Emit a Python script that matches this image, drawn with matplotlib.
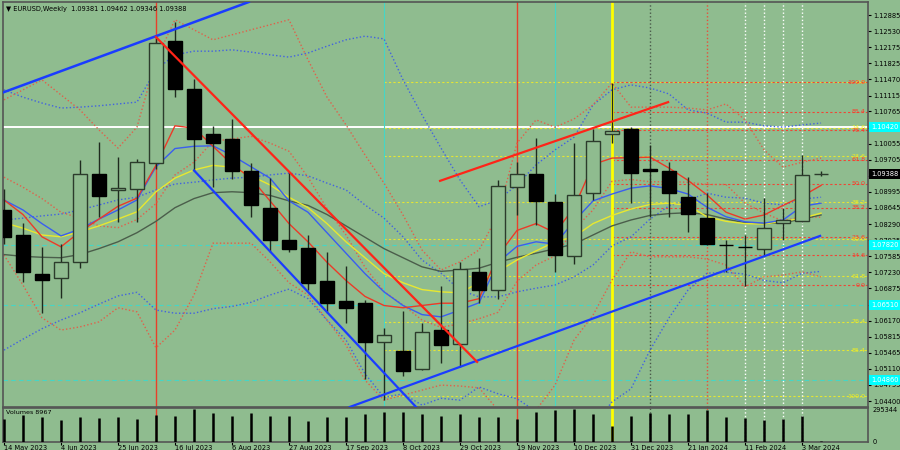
import matplotlib
matplotlib.use("Agg")
import numpy as np
import matplotlib.pyplot as plt
from matplotlib.transforms import blended_transform_factory

BG = "#8fbc8f"

# weekly EURUSD candles, 14 May 2023 .. 10 Mar 2024
opens = [1.0860, 1.0805, 1.0719, 1.0711, 1.0746, 1.0939, 1.0904, 1.0906, 1.0963, 1.1231, 1.1126,
         1.1027, 1.1016, 1.0946, 1.0864, 1.0794, 1.0776, 1.0704, 1.0660, 1.0656, 1.0570, 1.0550,
         1.0511, 1.0596, 1.0566, 1.0724, 1.0684, 1.0911, 1.0939, 1.0878, 1.0759, 1.0897, 1.1027,
         1.1038, 1.0950, 1.0946, 1.0888, 1.0842, 1.0784, 1.0779, 1.0774, 1.0831, 1.0836, 1.09381]
highs = [1.0905, 1.0831, 1.0779, 1.0785, 1.0970, 1.1009, 1.0976, 1.0972, 1.1245, 1.1273, 1.1148,
         1.1045, 1.1060, 1.0963, 1.0930, 1.0944, 1.0805, 1.0768, 1.0737, 1.0662, 1.0601, 1.0638,
         1.0612, 1.0693, 1.0746, 1.0754, 1.0925, 1.0965, 1.1018, 1.0895, 1.1007, 1.1038, 1.1139,
         1.1042, 1.1003, 1.0966, 1.0932, 1.0897, 1.0794, 1.0805, 1.0886, 1.0864, 1.0981, 1.09462]
lows = [1.0785, 1.0702, 1.0634, 1.0667, 1.0732, 1.0845, 1.0834, 1.0834, 1.0950, 1.1109, 1.0945,
        1.0910, 1.0928, 1.0845, 1.0768, 1.0768, 1.0684, 1.0634, 1.0612, 1.0489, 1.0443, 1.0494,
        1.0508, 1.0524, 1.0515, 1.0656, 1.0664, 1.0850, 1.0827, 1.0724, 1.0741, 1.0882, 1.1007,
        1.0875, 1.0845, 1.0845, 1.0812, 1.0782, 1.0724, 1.0693, 1.0759, 1.0794, 1.0834, 1.09346]
closes = [1.0801, 1.0724, 1.0706, 1.0746, 1.0939, 1.0891, 1.0909, 1.0965, 1.1227, 1.1126, 1.1016,
          1.1007, 1.0946, 1.0871, 1.0794, 1.0774, 1.0700, 1.0656, 1.0645, 1.0570, 1.0585, 1.0506,
          1.0592, 1.0563, 1.0730, 1.0684, 1.0913, 1.0939, 1.0880, 1.0761, 1.0893, 1.1012, 1.1034,
          1.0941, 1.0946, 1.0897, 1.0851, 1.0785, 1.0783, 1.0778, 1.0820, 1.0838, 1.0937, 1.09388]
volumes = [206000, 242000, 224000, 197000, 224000, 215000, 224000, 206000, 242000, 233000, 295344,
           260000, 233000, 260000, 233000, 233000, 188000, 224000, 224000, 251000, 269000, 269000,
           251000, 233000, 251000, 224000, 224000, 206000, 269000, 286000, 295000, 251000, 143000,
           233000, 260000, 251000, 251000, 286000, 224000, 215000, 197000, 206000, 233000, 8967]

date_labels = ["14 May 2023", "4 Jun 2023", "25 Jun 2023", "16 Jul 2023", "6 Aug 2023",
               "27 Aug 2023", "17 Sep 2023", "8 Oct 2023", "29 Oct 2023", "19 Nov 2023",
               "10 Dec 2023", "31 Dec 2023", "21 Jan 2024", "11 Feb 2024", "3 Mar 2024"]

# moving averages
red_ma = [1.0882, 1.0850, 1.0801, 1.0779, 1.0812, 1.0840, 1.0868, 1.0886, 1.0958, 1.1045, 1.1040,
          1.1000, 1.0960, 1.0930, 1.0880, 1.0830, 1.0790, 1.0745, 1.0705, 1.0670, 1.0650, 1.0645,
          1.0650, 1.0655, 1.0655, 1.0665, 1.0760, 1.0815, 1.0830, 1.0810, 1.0865, 1.0960, 1.0974,
          1.0975, 1.0976, 1.0952, 1.0925, 1.0893, 1.0855, 1.0840, 1.0849, 1.0870, 1.0890, 1.0914]
blue_ma = [1.0882, 1.0860, 1.0830, 1.0803, 1.0818, 1.0840, 1.0860, 1.0882, 1.0955, 1.0995, 1.1000,
           1.1001, 1.0980, 1.0955, 1.0930, 1.0880, 1.0855, 1.0810, 1.0765, 1.0720, 1.0680, 1.0650,
           1.0630, 1.0625, 1.0640, 1.0656, 1.0745, 1.0780, 1.0790, 1.0785, 1.0835, 1.0880, 1.0895,
           1.0908, 1.0913, 1.0907, 1.0895, 1.0866, 1.0845, 1.0834, 1.0831, 1.0838, 1.0868, 1.0875]
yellow_ma = [1.0832, 1.0820, 1.0805, 1.0801, 1.0812, 1.0825, 1.0840, 1.0856, 1.0900, 1.0930, 1.0948,
             1.0958, 1.0954, 1.0935, 1.0915, 1.0888, 1.0865, 1.0830, 1.0790, 1.0755, 1.0720, 1.0700,
             1.0685, 1.0680, 1.0678, 1.0700, 1.0725, 1.0750, 1.0770, 1.0790, 1.0801, 1.0830, 1.0848,
             1.0862, 1.0872, 1.0875, 1.0870, 1.0845, 1.0835, 1.0830, 1.0829, 1.0835, 1.0842, 1.0853]
gray_ma = [1.0762, 1.0758, 1.0756, 1.0755, 1.0762, 1.0775, 1.0790, 1.0810, 1.0835, 1.0865, 1.0885,
           1.0898, 1.0900, 1.0898, 1.0892, 1.0880, 1.0870, 1.0850, 1.0825, 1.0800, 1.0775, 1.0755,
           1.0735, 1.0725, 1.0728, 1.0732, 1.0745, 1.0756, 1.0765, 1.0775, 1.0785, 1.0805, 1.0825,
           1.0838, 1.0848, 1.0852, 1.0854, 1.0850, 1.0840, 1.0832, 1.0830, 1.0832, 1.0840, 1.0849]

# blue dotted bands
bb_up = [1.1124, 1.1108, 1.1095, 1.1084, 1.1086, 1.1089, 1.1093, 1.1097, 1.1168, 1.1201, 1.1209,
         1.1209, 1.1212, 1.1207, 1.1201, 1.1196, 1.1205, 1.1220, 1.1234, 1.1242, 1.1236, 1.1146,
         1.1069, 1.0996, 1.0926, 1.0867, 1.0882, 1.0915, 1.0959, 1.0992, 1.1020, 1.1091, 1.1124,
         1.1135, 1.1128, 1.1115, 1.1080, 1.1073, 1.1053, 1.1053, 1.1045, 1.1042, 1.1047, 1.1051]
bb_mid = [1.0838, 1.0842, 1.0847, 1.0851, 1.0860, 1.0871, 1.0882, 1.0888, 1.0904, 1.0917, 1.0921,
          1.0926, 1.0930, 1.0932, 1.0937, 1.0941, 1.0935, 1.0919, 1.0904, 1.0871, 1.0842, 1.0801,
          1.0750, 1.0721, 1.0684, 1.0669, 1.0669, 1.0680, 1.0688, 1.0695, 1.0713, 1.0739, 1.0781,
          1.0801, 1.0840, 1.0869, 1.0882, 1.0897, 1.0888, 1.0886, 1.0875, 1.0871, 1.0884, 1.0888]
bb_low = [1.0552, 1.0576, 1.0599, 1.0618, 1.0634, 1.0653, 1.0671, 1.0679, 1.0640, 1.0633, 1.0633,
          1.0643, 1.0648, 1.0657, 1.0673, 1.0686, 1.0665, 1.0618, 1.0574, 1.0500, 1.0448, 1.0456,
          1.0431, 1.0446, 1.0442, 1.0471, 1.0456, 1.0445, 1.0417, 1.0398, 1.0406, 1.0387, 1.0438,
          1.0467, 1.0552, 1.0623, 1.0684, 1.0721, 1.0723, 1.0719, 1.0705, 1.0700, 1.0721, 1.0725]

# red dotted bands
rb_up = [1.1102, 1.1124, 1.1146, 1.1113, 1.1080, 1.1036, 1.0996, 1.1042, 1.1190, 1.1278, 1.1256,
         1.1234, 1.1245, 1.1256, 1.1267, 1.1278, 1.1190, 1.1108, 1.1047, 1.0981, 1.0919, 1.0849,
         1.0772, 1.0728, 1.0746, 1.0772, 1.0849, 1.1007, 1.1058, 1.1042, 1.1060, 1.1091, 1.1139,
         1.1086, 1.1086, 1.1086, 1.1084, 1.1080, 1.1093, 1.1058, 1.0992, 1.0954, 1.0965, 1.0974]
rb_mid = [1.0932, 1.0910, 1.0885, 1.0855, 1.0842, 1.0825, 1.0821, 1.0839, 1.0874, 1.0937, 1.0965,
          1.1011, 1.1016, 1.1022, 1.1007, 1.0989, 1.0932, 1.0863, 1.0805, 1.0734, 1.0681, 1.0651,
          1.0618, 1.0602, 1.0610, 1.0621, 1.0635, 1.0703, 1.0739, 1.0759, 1.0817, 1.0860, 1.0923,
          1.0927, 1.0922, 1.0922, 1.0921, 1.0916, 1.0916, 1.0875, 1.0853, 1.0836, 1.0845, 1.0844]
rb_low = [1.0761, 1.0695, 1.0623, 1.0596, 1.0603, 1.0614, 1.0645, 1.0636, 1.0557, 1.0596, 1.0673,
          1.0787, 1.0787, 1.0787, 1.0746, 1.0700, 1.0673, 1.0618, 1.0563, 1.0486, 1.0442, 1.0453,
          1.0464, 1.0475, 1.0473, 1.0469, 1.0420, 1.0398, 1.0420, 1.0475, 1.0574, 1.0629, 1.0706,
          1.0768, 1.0757, 1.0757, 1.0757, 1.0752, 1.0739, 1.0691, 1.0713, 1.0717, 1.0724, 1.0713]

# trend lines: (bar, price) anchors
blue_top = [(0, 1.1119), (8, 1.1242)]
blue_channel = [(10, 1.0947), (22, 1.0413)]
red_channel = [(8, 1.1240), (24.9, 1.0526)]
blue_support = [(18.2, 1.0427), (42.95, 1.0803)]
red_resist = [(22.95, 1.0924), (34.95, 1.1097)]

fib_levels = [0.0, 14.6, 23.6, 38.2, 50.0, 61.8, 76.4, 85.4, 100.0]
red_fib = (1.0695, 1.1141)      # 0 at low, 100 at high, drawn from bar 32
yellow_fib = (1.1141, 1.0451)   # 0 at high, 100 at low, drawn from bar 20

white_level = 1.1042
cyan_levels = [1.0782, 1.0651, 1.0486]
cyan_box_labels = ["1.10420", "1.07820", "1.06510", "1.04860"]

price_ticks = [1.12885, 1.12530, 1.12175, 1.11825, 1.11470, 1.11115, 1.10765, 1.10410, 1.10055,
               1.09705, 1.09350, 1.08995, 1.08645, 1.08290, 1.07935, 1.07585, 1.07230, 1.06875,
               1.06520, 1.06170, 1.05815, 1.05465, 1.05110, 1.04755, 1.04400]

opens, highs, lows, closes = map(np.array, (opens, highs, lows, closes))
x = np.arange(len(closes))
XLIM = (-0.05, 45.47)

fig = plt.figure(figsize=(9, 4.5), dpi=100, facecolor=BG)
ax = fig.add_axes([3 / 900, 43 / 450, 865 / 900, 405 / 450], facecolor=BG)
axv = fig.add_axes([3 / 900, 8 / 450, 865 / 900, 34 / 450], facecolor=BG)
for a in (ax, axv):
    a.set_xlim(*XLIM)
    for s in a.spines.values():
        s.set_color("#555555")
        s.set_linewidth(1.2)
ax.set_ylim(1.04269, 1.13171)
axv.set_ylim(0, 304300)

# horizontal levels
ax.axhline(white_level, color="white", lw=1.4, zorder=1)
for lv in cyan_levels:
    ax.axhline(lv, color="#45d6c6", lw=0.8, ls=(0, (4, 3)), zorder=1)

dot = (0, (1, 1.6))
ftr = blended_transform_factory(ax.transAxes, ax.transData)
for lv in fib_levels:
    py = yellow_fib[0] + (yellow_fib[1] - yellow_fib[0]) * lv / 100
    ax.plot([20, XLIM[1]], [py, py], color="#e6e632", lw=0.8, ls=(0, (2, 2)), zorder=1)
    ax.text(0.997, py, f"{lv:.1f}", transform=ftr, ha="right", va="center",
            color="#f0f020", fontsize=4.6, zorder=6)
    pr = red_fib[0] + (red_fib[1] - red_fib[0]) * lv / 100
    ax.plot([32, XLIM[1]], [pr, pr], color="#f04535", lw=0.8, ls=(0, (2, 2)), zorder=1)
    ax.text(0.997, pr, f"{lv:.1f}", transform=ftr, ha="right", va="center",
            color="#ff3a2a", fontsize=4.6, zorder=6)

# vertical markers
for a in (ax, axv):
    a.axvline(8, color="#e8402a", lw=1.0, zorder=1)
    a.axvline(27, color="#e8402a", lw=1.0, zorder=1)
    a.axvline(32, color="#ffff00", lw=2.0, zorder=1)
    a.axvline(34, color="#4a5a4a", lw=1.0, ls=dot, zorder=1)
    a.axvline(37, color="#e8503a", lw=1.0, ls=dot, zorder=1)
    for b in (39, 40, 41, 42):
        a.axvline(b, color="white", lw=1.0, ls=dot, zorder=1)
ax.axvline(20, color="#45d6c6", lw=0.8, zorder=1)
ax.axvline(29, color="#45d6c6", lw=0.8, zorder=1)

# indicators
for band, col in ((bb_up, "#4262e0"), (bb_mid, "#4262e0"), (bb_low, "#4262e0"),
                  (rb_up, "#e0604a"), (rb_mid, "#e0604a"), (rb_low, "#e0604a")):
    ax.plot(x, band, color=col, lw=1.0, ls=dot, zorder=2)
ax.plot(x, gray_ma, color="#4b5e4b", lw=1.0, zorder=2)
ax.plot(x, yellow_ma, color="#e8e830", lw=1.0, zorder=2)
ax.plot(x, blue_ma, color="#3a5ef0", lw=1.0, zorder=2)
ax.plot(x, red_ma, color="#ec3a28", lw=1.0, zorder=2)

# candles
bull = closes >= opens
lo = np.minimum(opens, closes)
hgt = np.abs(closes - opens)
ax.vlines(x, lows, highs, color="#1f2b1f", lw=1.0, zorder=4)
ax.bar(x[bull], hgt[bull], 0.74, lo[bull], facecolor=BG, edgecolor="#2c3c2c", lw=1.0, zorder=5)
ax.bar(x[~bull], hgt[~bull], 0.74, lo[~bull], facecolor="black", edgecolor="black", lw=1.0, zorder=5)

# trend lines
ax.axline(*blue_top, color="#1a3cff", lw=1.8, zorder=7)
for pts, col in ((blue_channel, "#1a3cff"), (blue_support, "#1a3cff"),
                 (red_channel, "#ff2418"), (red_resist, "#ff2418")):
    ax.plot([p[0] for p in pts], [p[1] for p in pts], color=col, lw=1.6, zorder=7)

# right price scale
ax.yaxis.tick_right()
ax.set_yticks(price_ticks)
ax.set_yticklabels([f"{t:.5f}" for t in price_ticks])
ax.tick_params(axis="y", labelsize=4.8, length=2, width=0.8, pad=1.5, colors="black")
ax.tick_params(axis="x", bottom=False, labelbottom=False)

for lv, lab in zip([white_level] + cyan_levels, cyan_box_labels):
    ax.text(1.004, lv, lab, transform=ftr, ha="left", va="center", fontsize=4.8, color="white",
            bbox=dict(boxstyle="square,pad=0.3", fc="#00ffff", ec="none"), clip_on=False, zorder=10)
ax.text(1.004, closes[-1], f"{closes[-1]:.5f}", transform=ftr, ha="left", va="center", fontsize=4.8,
        color="white", bbox=dict(boxstyle="square,pad=0.3", fc="black", ec="none"),
        clip_on=False, zorder=10)

# volume panel
axv.vlines(x, 0, volumes, color="black", lw=1.8, zorder=3)
axv.yaxis.tick_right()
axv.set_yticks([0, 295344])
axv.set_yticklabels(["0", "295344"])
axv.tick_params(axis="y", labelsize=4.8, length=0, pad=3, colors="black")
axv.set_xticks(x[::3][:len(date_labels)])
axv.set_xticklabels(date_labels)
axv.tick_params(axis="x", labelsize=4.8, length=2, pad=0.3, colors="black")
for lab in axv.get_xticklabels():
    lab.set_horizontalalignment("left")
axv.text(0.004, 0.93, f"Volumes {volumes[-1]}", transform=axv.transAxes, fontsize=4.6,
         va="top", ha="left", color="black")

fig.text(6 / 900, 1 - 9 / 450,
         "\u25bc EURUSD,Weekly  1.09381 1.09462 1.09346 1.09388",
         fontsize=4.8, va="center", ha="left", color="black")

fig.savefig("out.png", dpi=100, facecolor=BG)
